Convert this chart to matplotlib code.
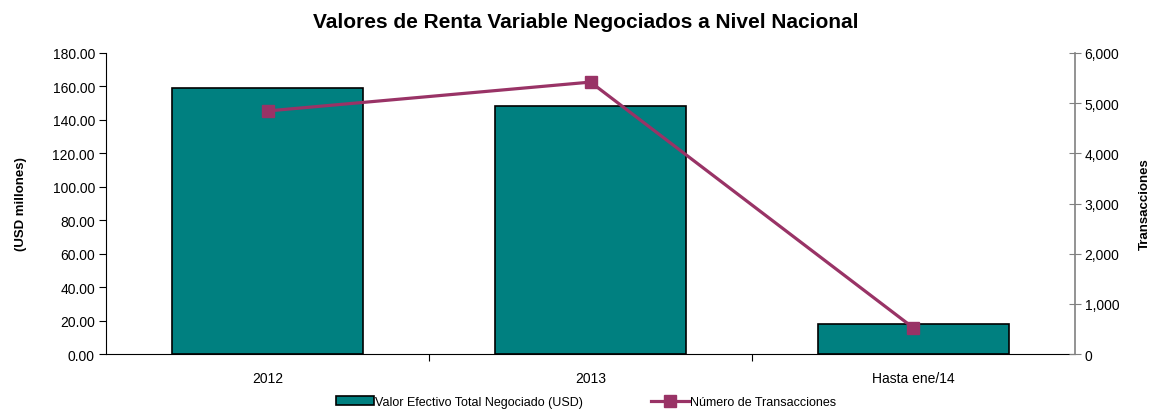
import matplotlib
matplotlib.use("Agg")
import matplotlib.pyplot as plt
from matplotlib.ticker import FuncFormatter, FixedLocator

plt.rcParams['font.family'] = ['Liberation Sans', 'DejaVu Sans']

categories = ["2012", "2013", "Hasta ene/14"]
valor_usd = [159.1, 148.3, 17.9]
transacciones = [4845, 5420, 520]

bar_color = "#008080"
line_color = "#993366"

fig = plt.figure(figsize=(11.54, 4.10), dpi=100)
ax = fig.add_axes([0.0919, 0.1341, 0.8396, 0.7342])
x = list(range(len(categories)))
bars = ax.bar(x, valor_usd, width=0.59, color=bar_color, edgecolor="black", linewidth=1.2,
              label="Valor Efectivo Total Negociado (USD)", zorder=2)
ax.set_xlim(-0.5, 2.5)
ax.set_ylim(0, 180)
ax.set_yticks([0, 20, 40, 60, 80, 100, 120, 140, 160, 180])
ax.yaxis.set_major_formatter(FuncFormatter(lambda v, p: f"{v:.2f}"))
ax.set_xticks(x)
ax.set_xticklabels(categories)
ax.xaxis.set_minor_locator(FixedLocator([0.5, 1.5]))
ax.tick_params(axis='x', which='major', length=0, pad=12, labelsize=10)
ax.tick_params(axis='x', which='minor', length=5, direction='out', width=0.8)
ax.tick_params(axis='y', length=5, direction='out', width=0.8, labelsize=10, pad=3)
for s in ['top', 'right']:
    ax.spines[s].set_visible(False)
ax.spines['left'].set_linewidth(0.8)
ax.spines['bottom'].set_linewidth(0.8)
ax.set_ylabel("(USD millones)", fontsize=9.5, fontweight='bold', labelpad=18)

ax2 = ax.twinx()
line, = ax2.plot(x, transacciones, color=line_color, linewidth=2.3, marker='s', markersize=9,
                 label="Número de Transacciones", zorder=3)
ax2.set_ylim(0, 6000)
ax2.set_yticks([0, 1000, 2000, 3000, 4000, 5000, 6000])
ax2.yaxis.set_major_formatter(FuncFormatter(lambda v, p: f"{int(v):,}"))
ax2.tick_params(axis='y', length=8, direction='inout', width=0.8, labelsize=10, pad=3, color='#808080')
for s in ['top', 'left', 'bottom']:
    ax2.spines[s].set_visible(False)
ax2.spines['right'].set_color('#808080')
ax2.spines['right'].set_linewidth(1.2)
ax2.set_ylabel("Transacciones", fontsize=9.5, fontweight='bold', labelpad=14)

fig.text(0.508, 0.945, "Valores de Renta Variable Negociados a Nivel Nacional",
         ha='center', va='center', fontsize=15, fontweight='bold')

fig.legend([bars, line], ["Valor Efectivo Total Negociado (USD)", "Número de Transacciones"],
           loc='center', bbox_to_anchor=(0.508, 0.017), ncol=2, frameon=False,
           fontsize=9, handlelength=3.0, handletextpad=0.1, columnspacing=5.5)

fig.savefig("out.png", dpi=100)
